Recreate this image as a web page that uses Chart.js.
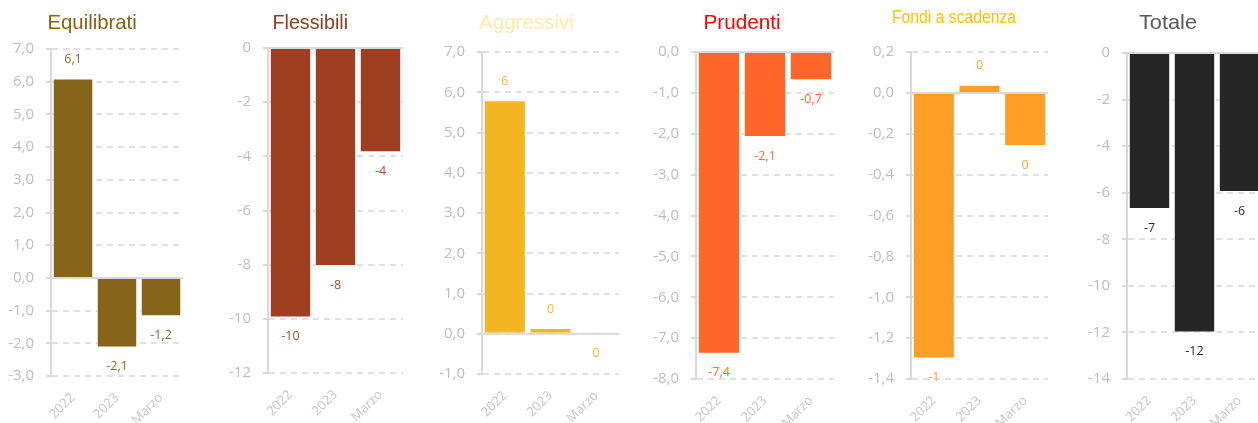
<!DOCTYPE html>
<html lang="it">
<head>
<meta charset="utf-8">
<script src="https://cdn.jsdelivr.net/npm/chart.js@4.4.1/dist/chart.umd.min.js"></script>
<style>
  html, body { margin: 0; padding: 0; background: #ffffff; }
  body { width: 1258px; height: 423px; overflow: hidden; position: relative; }
  canvas { position: absolute; top: 0; }
  .title {
    position: absolute; white-space: nowrap;
    font-family: "Liberation Sans", Arial, sans-serif;
    transform-origin: 50% 50%;
  }
</style>
</head>
<body>
<script>
// Categories shared by every panel
const categories = ['2022', '2023', 'Marzo'];

// Net flows per fund family
const equilibrati   = [6.1, -2.13, -1.17];
const flessibili    = [-9.95, -8.05, -3.85];
const aggressivi    = [5.8, 0.14, -0.02];
const prudenti      = [-7.38, -2.08, -0.69];
const fondiScadenza = [-1.3, 0.04, -0.26];
const totale        = [-6.7, -12.0, -5.97];

// Panel titles
const panelTitles = ['Equilibrati', 'Flessibili', 'Aggressivi', 'Prudenti', 'Fondi a scadenza', 'Totale'];

// Y axis ranges: [min, max, step, decimals shown on tick labels]
const yEquilibrati   = [-3, 7, 1, 1];
const yFlessibili    = [-12, 0, 2, 0];
const yAggressivi    = [-1, 7, 1, 1];
const yPrudenti      = [-8, 0, 1, 1];
const yFondiScadenza = [-1.4, 0.2, 0.2, 1];
const yTotale        = [-14, 0, 2, 0];

// Decimals used by the value labels above / below the bars
const labelDecimals = [1, 0, 0, 1, 0, 0];

// Layout and style of each panel
const H = 423, Y_W = 52, PAD_R = 4;
const panels = [
  { values: equilibrati,   y: yEquilibrati,   axisX: 51,   rightX: 183,  topY: 49, bottomY: 376,
    bar: '#86651a', label: '#8a6a1c', titleColor: '#86620f', tCenter: 92,   tWidth: 89,  tSize: 21, tTop: 10.5 },
  { values: flessibili,    y: yFlessibili,    axisX: 268,  rightX: 403,  topY: 48, bottomY: 373,
    bar: '#9e3f22', label: '#b24a2c', titleColor: '#8e3c1a', tCenter: 310,  tWidth: 76,  tSize: 21, tTop: 10.5 },
  { values: aggressivi,    y: yAggressivi,    axisX: 482,  rightX: 619,  topY: 52, bottomY: 374,
    bar: '#f2b622', label: '#f4b731', titleColor: '#ffe8a8', tCenter: 526,  tWidth: 95,  tSize: 21, tTop: 10.5 },
  { values: prudenti,      y: yPrudenti,      axisX: 696,  rightX: 834,  topY: 52, bottomY: 379,
    bar: '#ff6628', label: '#ff6b30', titleColor: '#ff0000', tCenter: 742,  tWidth: 77,  tSize: 21, tTop: 10.5 },
  { values: fondiScadenza, y: yFondiScadenza, axisX: 911,  rightX: 1048, topY: 52, bottomY: 379,
    bar: '#ff9e24', label: '#ffa032', titleColor: '#ffc000', tCenter: 954,  tWidth: 124, tSize: 18, tTop: 7.5 },
  { values: totale,        y: yTotale,        axisX: 1127, rightX: 1262, topY: 53, bottomY: 379,
    bar: '#262626', label: '#262626', titleColor: '#595959', tCenter: 1168, tWidth: 58,  tSize: 21, tTop: 10.5 }
];

Chart.defaults.font.family = '"Open Sans", sans-serif';

function fmt(v, dec) {
  let s = Number(v).toFixed(dec);
  if (Number(s) === 0) s = Number(0).toFixed(dec);
  return s.replace('.', ',');
}

// Solid baseline at zero, under the bars
const zeroLine = {
  id: 'zeroLine',
  beforeDatasetsDraw(chart) {
    const { ctx, chartArea: a, scales: { y } } = chart;
    const py = y.getPixelForValue(0);
    ctx.save();
    ctx.strokeStyle = '#d9d9d9';
    ctx.lineWidth = 2;
    ctx.beginPath();
    ctx.moveTo(a.left - 4, py);
    ctx.lineTo(a.right, py);
    ctx.stroke();
    ctx.restore();
  }
};

// Value labels outside the end of each bar
const valueLabels = {
  id: 'valueLabels',
  afterDatasetsDraw(chart, args, opts) {
    const { ctx } = chart;
    const ds = chart.data.datasets[0];
    const meta = chart.getDatasetMeta(0);
    ctx.save();
    ctx.fillStyle = opts.color;
    ctx.font = '12.5px "Open Sans", sans-serif';
    ctx.textAlign = 'center';
    ctx.textBaseline = 'middle';
    meta.data.forEach((el, i) => {
      const v = ds.data[i];
      const ty = v >= 0 ? el.y - 19 : el.y + 19;
      ctx.fillText(fmt(v, opts.decimals), el.x, ty);
    });
    ctx.restore();
  }
};

panels.forEach((p, idx) => {
  const cv = document.createElement('canvas');
  const w = (p.rightX - p.axisX) + Y_W + PAD_R;
  cv.width = w; cv.height = H;
  cv.style.left = (p.axisX - Y_W) + 'px';
  cv.style.width = w + 'px'; cv.style.height = H + 'px';
  document.body.appendChild(cv);

  const [yMin, yMax, yStep, yDec] = p.y;
  new Chart(cv, {
    type: 'bar',
    data: {
      labels: categories,
      datasets: [{
        data: p.values,
        backgroundColor: p.bar,
        borderColor: 'rgba(255,255,255,0.7)',
        borderWidth: 1,
        barPercentage: 0.92,
        categoryPercentage: 1
      }]
    },
    options: {
      responsive: false,
      animation: false,
      devicePixelRatio: 1,
      layout: { padding: { top: p.topY, right: PAD_R, bottom: 0, left: 0 } },
      plugins: {
        legend: { display: false },
        tooltip: { enabled: false },
        title: { display: false },
        valueLabels: { color: p.label, decimals: labelDecimals[idx] }
      },
      scales: {
        x: {
          grid: { display: false },
          border: { display: false },
          ticks: { color: '#c4c4c4', font: { size: 13 }, maxRotation: 45, minRotation: 45, padding: 6 },
          afterFit(s) { s.height = H - p.bottomY; }
        },
        y: {
          min: yMin, max: yMax,
          ticks: {
            stepSize: yStep, color: '#bdbdbd', font: { size: 15 }, padding: 12,
            callback: v => fmt(v, yDec)
          },
          grid: { color: '#e0e0e0', lineWidth: 2, tickLength: 5, tickColor: '#d9d9d9' },
          border: { display: true, color: '#d9d9d9', width: 2, dash: [6, 5] },
          afterFit(s) { s.width = Y_W; }
        }
      }
    },
    plugins: [zeroLine, valueLabels]
  });

  // Panel title
  const t = document.createElement('div');
  t.className = 'title';
  t.textContent = panelTitles[idx];
  t.style.color = p.titleColor;
  t.style.fontSize = p.tSize + 'px';
  t.style.lineHeight = p.tSize + 'px';
  t.style.top = p.tTop + 'px';
  document.body.appendChild(t);
  const nat = t.offsetWidth;
  t.style.left = (p.tCenter - nat / 2) + 'px';
  t.style.transform = 'scaleX(' + (p.tWidth / nat) + ')';
});
</script>
</body>
</html>
